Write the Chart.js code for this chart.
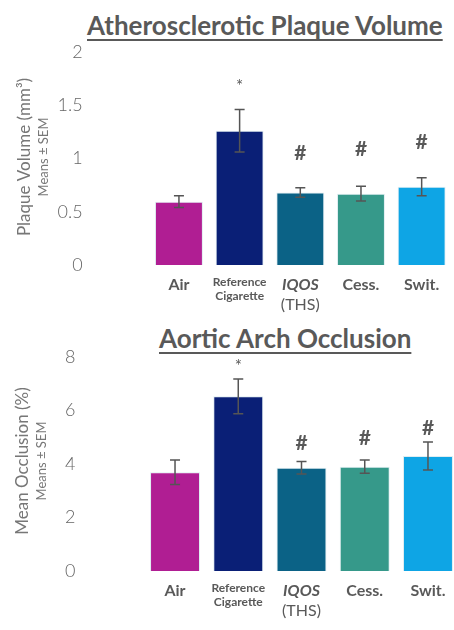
<!DOCTYPE html>
<html>
<head>
<meta charset="utf-8">
<script src="https://cdn.jsdelivr.net/npm/chart.js@4.4.1/dist/chart.umd.min.js"></script>
<style>
  html, body { margin: 0; padding: 0; background: #fff; overflow: hidden; }
  #wrap { position: relative; width: 454px; height: 630px; overflow: hidden; }
  .title {
    position: absolute;
    font-family: Lato, "Open Sans", sans-serif;
    font-weight: bold;
    font-size: 26px;
    color: #595959;
    text-decoration: underline;
    text-decoration-thickness: 2px;
    text-underline-offset: 4px;
    white-space: nowrap;
    line-height: 30px;
  }
  canvas { position: absolute; left: 0; }
</style>
</head>
<body>
<div id="wrap">
  <div class="title" style="left:87px; top:10px;">Atherosclerotic Plaque Volume</div>
  <div class="title" style="left:159px; top:323px;">Aortic Arch Occlusion</div>
  <canvas id="plaque" style="top:0" width="454" height="315"></canvas>
  <canvas id="occlusion" style="top:315px" width="460" height="315"></canvas>
</div>
<script>
// groups
const groups = ["Air", "Reference Cigarette", "IQOS (THS)", "Cess.", "Swit."];
const barColors = ["#B01E93", "#0A1F76", "#0B6286", "#36998A", "#0EA5E5"];

// plaque volume (mm3), means +- SEM
const plaqueMeans = [0.595, 1.26, 0.68, 0.67, 0.735];
const plaqueSem = [0.055, 0.2, 0.045, 0.07, 0.085];
const plaqueMarks = ["", "*", "#", "#", "#"];
const plaqueMarkAt = [null, 1.68, 1.05, 1.09, 1.155];
const plaqueTicks = [0, 0.5, 1, 1.5, 2];

// aortic arch occlusion (%), means +- SEM
const occlMeans = [3.69, 6.53, 3.86, 3.9, 4.3];
const occlSem = [0.46, 0.65, 0.23, 0.25, 0.52];
const occlMarks = ["", "*", "#", "#", "#"];
const occlMarkAt = [null, 7.64, 4.77, 4.96, 5.33];
const occlTicks = [0, 2, 4, 6, 8];

const FONT = "Lato, 'Open Sans', sans-serif";
const GRAY = "#595959";

// error bars, * / # markers, custom x labels, y axis titles
const extrasPlugin = {
  id: "extras",
  afterDatasetsDraw(chart, args, opts) {
    const ctx = chart.ctx;
    const x = chart.scales.x, y = chart.scales.y;
    const area = chart.chartArea;
    ctx.save();
    // error bars
    ctx.strokeStyle = "#555";
    ctx.lineWidth = 1.5;
    opts.means.forEach((m, i) => {
      const cx = x.getPixelForValue(i);
      const yt = y.getPixelForValue(m + opts.sem[i]);
      const yb = y.getPixelForValue(m - opts.sem[i]);
      ctx.beginPath();
      ctx.moveTo(cx, yt); ctx.lineTo(cx, yb);
      ctx.moveTo(cx - 5, yt); ctx.lineTo(cx + 5, yt);
      ctx.moveTo(cx - 5, yb); ctx.lineTo(cx + 5, yb);
      ctx.stroke();
    });
    // significance markers
    ctx.fillStyle = GRAY;
    ctx.textAlign = "center";
    ctx.textBaseline = "middle";
    opts.marks.forEach((mk, i) => {
      if (!mk) return;
      const cx = x.getPixelForValue(i);
      const cy = y.getPixelForValue(opts.markAt[i]);
      ctx.font = mk === "#" ? "bold 21px " + FONT : "17px " + FONT;
      ctx.fillText(mk, cx, cy);
    });
    // x labels
    const b = area.bottom;
    groups.forEach((g, i) => {
      const cx = x.getPixelForValue(i);
      if (g === "Reference Cigarette") {
        ctx.font = "bold 12px " + FONT;
        ctx.fillText("Reference", cx, b + 17);
        ctx.fillText("Cigarette", cx, b + 31);
      } else if (g === "IQOS (THS)") {
        ctx.font = "italic bold 16px " + FONT;
        ctx.fillText("IQOS", cx, b + 20);
        ctx.font = "16px " + FONT;
        ctx.fillText("(THS)", cx, b + 40);
      } else {
        ctx.font = "bold 16px " + FONT;
        ctx.fillText(g, cx, b + 20);
      }
    });
    // y axis titles
    ctx.fillStyle = "#777";
    ctx.translate(opts.titleX, opts.titleY);
    ctx.rotate(-Math.PI / 2);
    ctx.font = "17px " + FONT;
    ctx.fillText(opts.yTitle, 0, 0);
    ctx.font = "13px " + FONT;
    ctx.fillText("Means ± SEM", opts.titleY - opts.subY, opts.subX - opts.titleX);
    ctx.restore();
  }
};

function makeChart(id, means, sem, marks, markAt, tickVals, cfg) {
  return new Chart(document.getElementById(id), {
    type: "bar",
    data: {
      labels: groups,
      datasets: [{
        data: means,
        backgroundColor: barColors,
        borderColor: "rgba(220,235,240,0.9)",
        borderWidth: 1,
        barPercentage: cfg.barPct,
        categoryPercentage: 1
      }]
    },
    options: {
      responsive: false,
      animation: false,
      layout: { padding: { top: cfg.top, right: cfg.right, left: 0, bottom: 0 } },
      plugins: {
        legend: { display: false },
        tooltip: { enabled: false },
        extras: {
          means: means, sem: sem, marks: marks, markAt: markAt,
          yTitle: cfg.yTitle, titleX: cfg.titleX, titleY: cfg.titleY,
          subX: cfg.subX, subY: cfg.subY
        }
      },
      scales: {
        x: {
          grid: { display: false, drawTicks: false },
          border: { display: false },
          ticks: { display: false },
          afterFit(scale) { scale.height = cfg.bottomH; }
        },
        y: {
          min: 0, max: tickVals[tickVals.length - 1],
          afterBuildTicks(scale) { scale.ticks = tickVals.map(v => ({ value: v })); },
          // invisible tick marks push the labels away from the bars
          grid: { display: false, drawTicks: true, tickLength: cfg.gap },
          border: { display: false },
          ticks: {
            padding: 4,
            color: "#666",
            font: { family: FONT, size: 18, weight: "300" },
            callback: (v) => String(v)
          },
          afterFit(scale) { scale.width = cfg.leftW; }
        }
      }
    },
    plugins: [extrasPlugin]
  });
}

makeChart("plaque", plaqueMeans, plaqueSem, plaqueMarks, plaqueMarkAt, plaqueTicks, {
  top: 52, right: 2, bottomH: 50,
  leftW: 148.6, gap: 62, barPct: 0.79,
  yTitle: "Plaque Volume (mm³)", titleX: 25, titleY: 157, subX: 44, subY: 157
});

makeChart("occlusion", occlMeans, occlSem, occlMarks, occlMarkAt, occlTicks, {
  top: 42, right: 0.4, bottomH: 59,
  leftW: 143.4, gap: 64, barPct: 0.79,
  yTitle: "Mean Occlusion (%)", titleX: 23, titleY: 146, subX: 42, subY: 146
});
</script>
</body>
</html>
